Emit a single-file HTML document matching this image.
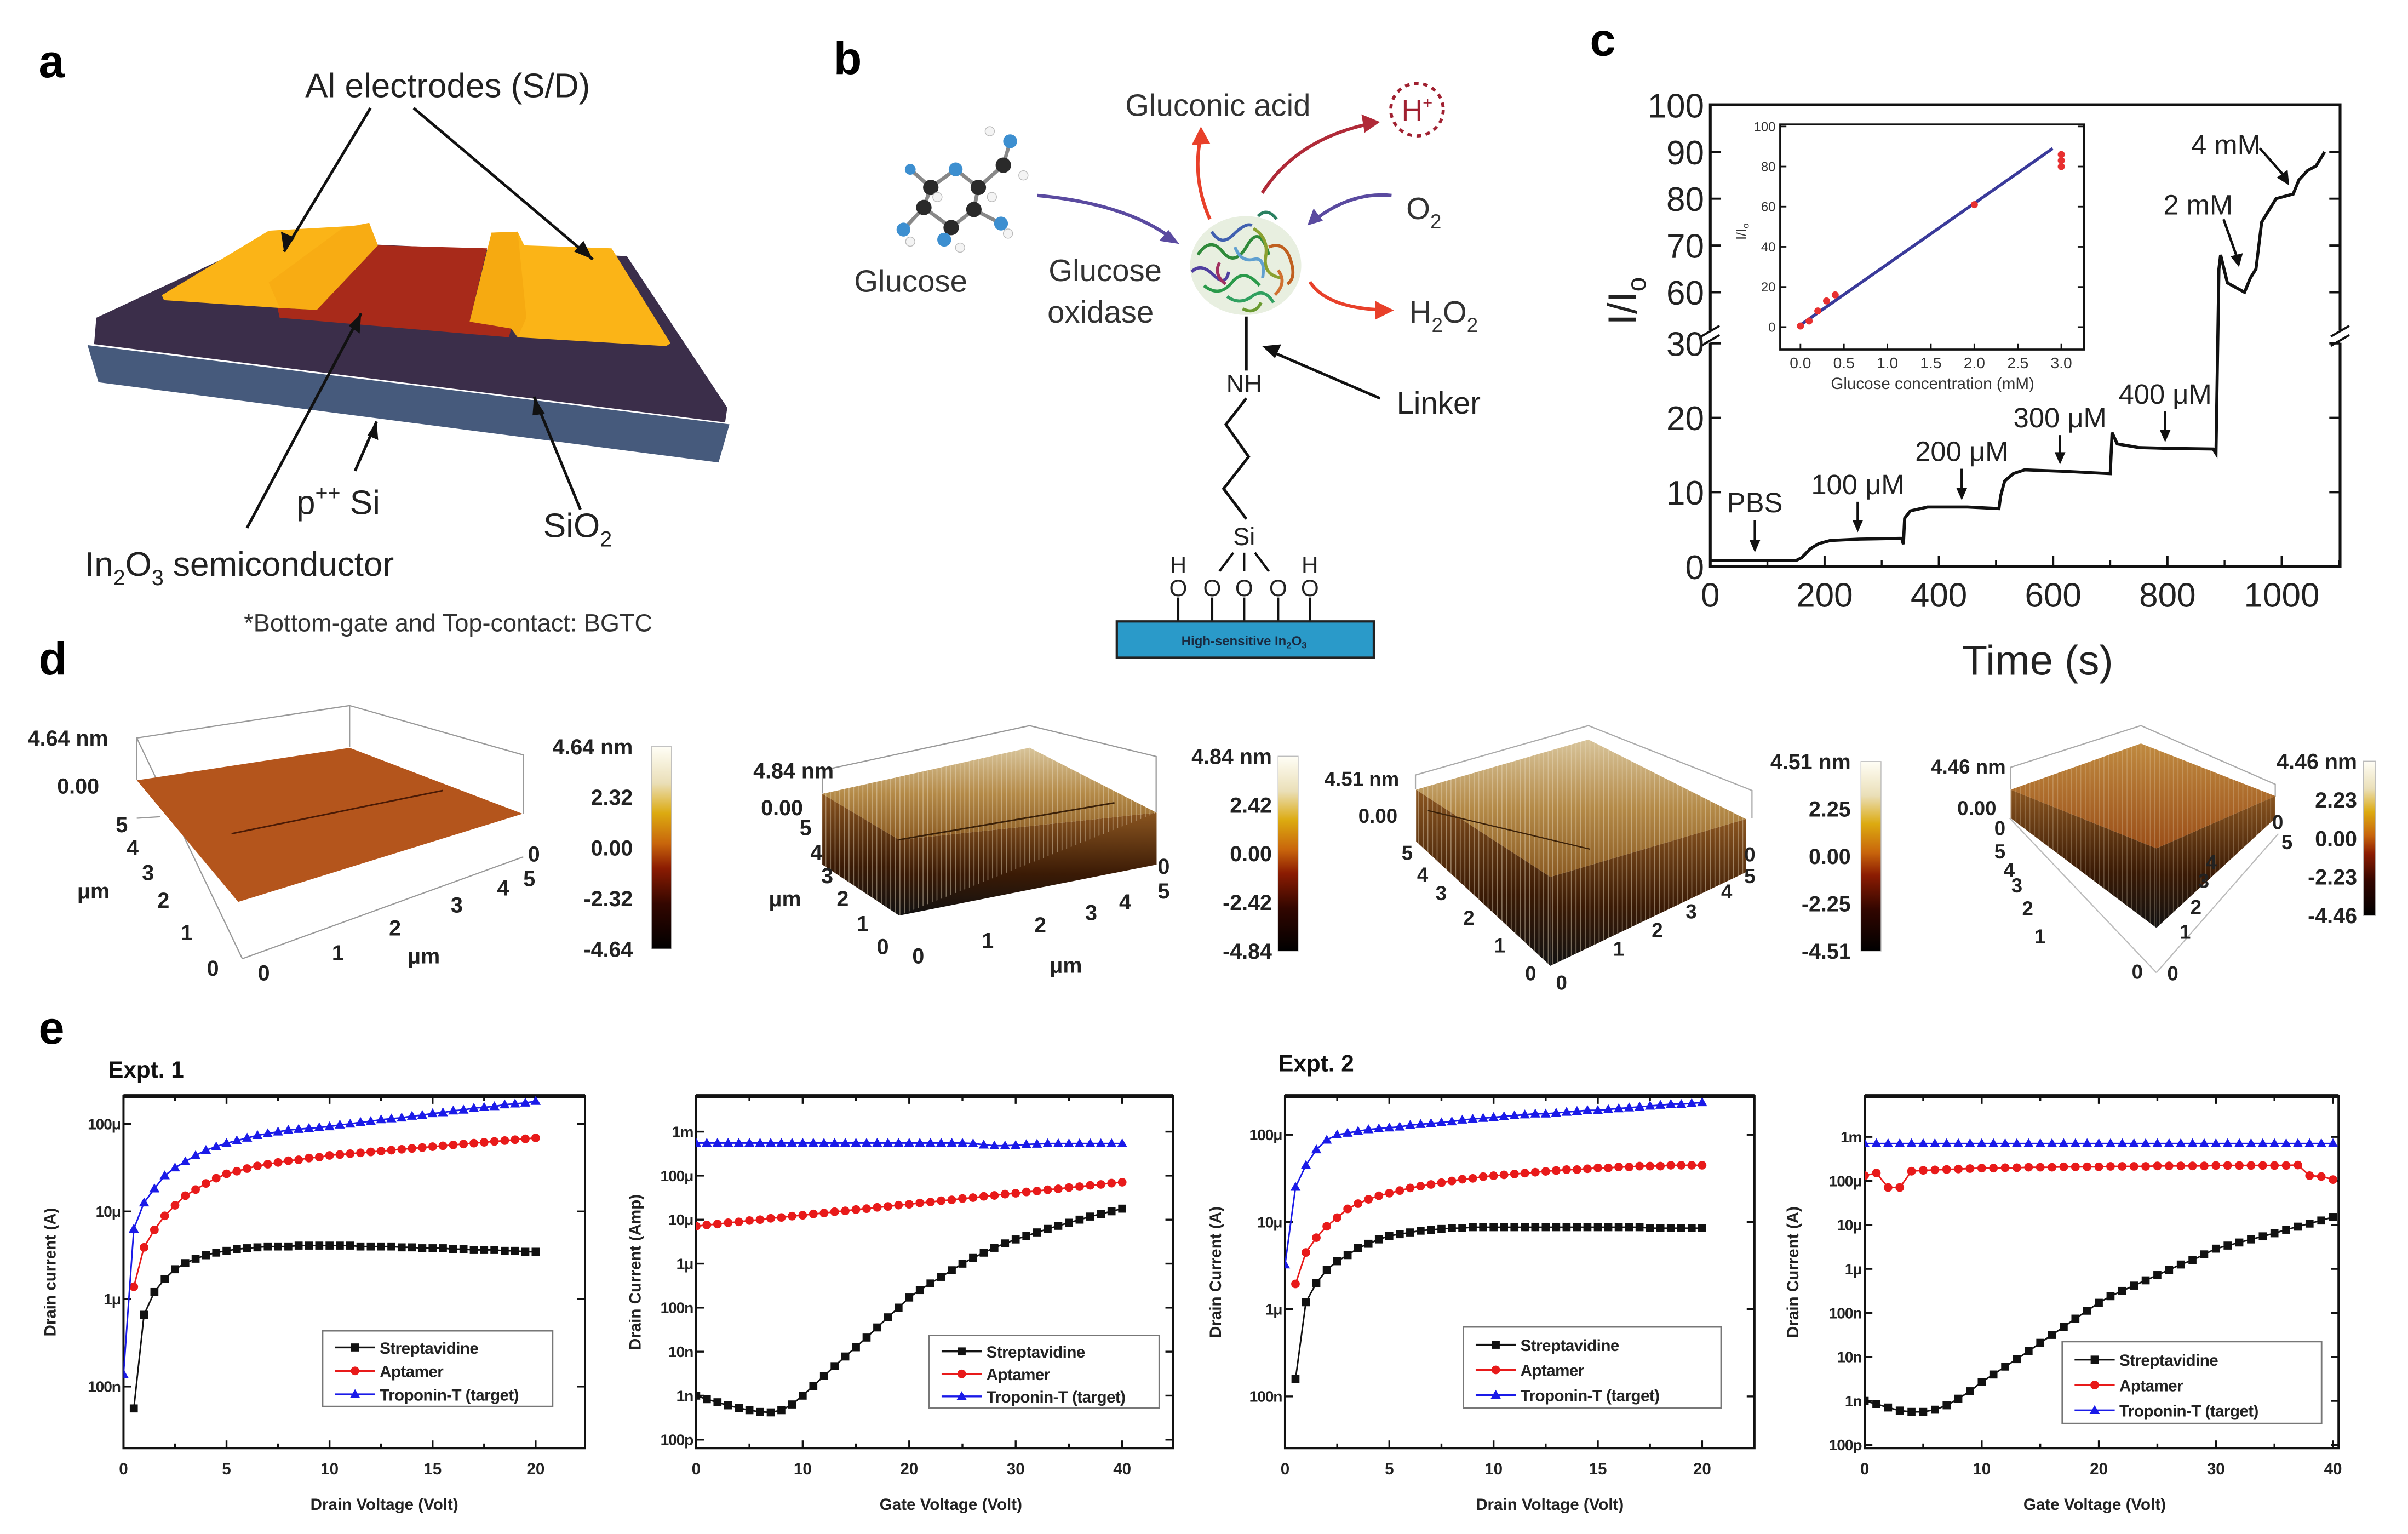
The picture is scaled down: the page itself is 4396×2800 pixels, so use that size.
<!DOCTYPE html>
<html><head><meta charset="utf-8"><style>
html,body{margin:0;padding:0;background:#fff;}
svg{display:block;font-family:"Liberation Sans",sans-serif;}
</style></head><body>
<svg id="fig" xmlns="http://www.w3.org/2000/svg" width="4396" height="2800" viewBox="0 0 1560 993.6">
<defs>
<linearGradient id="cbar" x1="0" y1="0" x2="0" y2="1">
<stop offset="0" stop-color="#fffef6"/><stop offset="0.18" stop-color="#eadfb8"/><stop offset="0.33" stop-color="#dcaa10"/><stop offset="0.48" stop-color="#c8650c"/><stop offset="0.6" stop-color="#8c1c02"/><stop offset="0.78" stop-color="#320600"/><stop offset="1" stop-color="#000"/>
</linearGradient>
<linearGradient id="topface" x1="0" y1="0" x2="0" y2="1"><stop offset="0" stop-color="#d8c49a"/><stop offset="0.5" stop-color="#b48a48"/><stop offset="1" stop-color="#8a5a22"/></linearGradient>
<linearGradient id="sideface" x1="0" y1="0" x2="0" y2="1"><stop offset="0" stop-color="#8a5520"/><stop offset="0.6" stop-color="#3a1a05"/><stop offset="1" stop-color="#111"/></linearGradient>
<linearGradient id="topface4" x1="0" y1="0" x2="0" y2="1"><stop offset="0" stop-color="#c08a40"/><stop offset="1" stop-color="#9a4e18"/></linearGradient>
<pattern id="spikes" width="3" height="6" patternUnits="userSpaceOnUse"><rect width="3" height="6" fill="none"/><line x1="1" y1="0" x2="1" y2="6" stroke="#e8dcc0" stroke-width="0.6" opacity="0.45"/></pattern>
</defs>

<text x="25" y="50" font-size="30" font-weight="bold">a</text>
<text x="540" y="48" font-size="30" font-weight="bold">b</text>
<text x="1030" y="36" font-size="30" font-weight="bold">c</text>
<text x="25" y="437" font-size="30" font-weight="bold">d</text>
<text x="25" y="676" font-size="30" font-weight="bold">e</text>

<g>
<g transform="translate(35.5,117.1) scale(0.2829,0.1267)">
<polygon points="75,840 1545,1245 1520,1440 100,1030" fill="#465a7c"/>
<polygon points="95,700 480,300 1310,385 1540,1160 1535,1235 90,835" fill="#3b2e4a"/>
<polygon points="510,650 515,700 1040,800 1045,755 950,720 990,345 740,330 600,660" fill="#a82a1a"/>
<polygon points="245,585 490,255 690,230 720,215 740,330 600,660 515,650 250,610" fill="#fbb417"/>
<polygon points="490,520 660,240 720,215 740,330 600,660 515,650" fill="#f6a812" opacity="0.7"/>
<polygon points="950,720 1000,265 1060,260 1075,330 1275,345 1410,830 1400,845 1060,800 1045,755" fill="#fbb417"/>
<polygon points="950,720 1000,265 1060,260 1080,700 1060,800 1045,755" fill="#f3a510" opacity="0.7"/>
</g>
<g stroke="#111" stroke-width="1.8" fill="none">
<line x1="240" y1="70" x2="184" y2="163"/><line x1="268" y1="70" x2="384" y2="168"/>
<line x1="160" y1="342" x2="234" y2="203"/><line x1="230" y1="305" x2="244" y2="273"/><line x1="376" y1="330" x2="346" y2="257"/>
</g>
<g fill="#111">
<polygon points="184,163 182,150 191,154"/><polygon points="384,168 372,163 378,156"/>
<polygon points="234,203 233,216 226,211"/><polygon points="244,273 245,285 238,282"/><polygon points="346,257 353,268 345,269"/>
</g>
<text x="290" y="63" font-size="22" text-anchor="middle" fill="#222">Al electrodes (S/D)</text>
<text x="192" y="333" font-size="22" fill="#222">p<tspan font-size="14" dy="-9">++</tspan><tspan dy="9"> Si</tspan></text>
<text x="352" y="348" font-size="22" fill="#222">SiO<tspan font-size="14" dy="6">2</tspan></text>
<text x="55" y="373" font-size="22" fill="#222">In<tspan font-size="14" dy="6">2</tspan><tspan dy="-6">O</tspan><tspan font-size="14" dy="6">3</tspan><tspan dy="-6"> semiconductor</tspan></text>
<text x="158" y="409" font-size="16" fill="#333">*Bottom-gate and Top-contact: BGTC</text>
</g>

<g>
<g stroke="#888" stroke-width="2.4">
<line x1="589.7" y1="109.7" x2="603" y2="121.4"/><line x1="603" y1="121.4" x2="619.1" y2="109.7"/><line x1="619.1" y1="109.7" x2="633.8" y2="121.4"/><line x1="633.8" y1="121.4" x2="650" y2="107"/><line x1="650" y1="107" x2="654.4" y2="91.5"/><line x1="603" y1="121.4" x2="598.5" y2="134.4"/><line x1="598.5" y1="134.4" x2="616.2" y2="147.4"/><line x1="616.2" y1="147.4" x2="630.9" y2="135.7"/><line x1="630.9" y1="135.7" x2="633.8" y2="121.4"/><line x1="598.5" y1="134.4" x2="585.3" y2="148.7"/><line x1="616.2" y1="147.4" x2="611.7" y2="155.2"/><line x1="630.9" y1="135.7" x2="648.5" y2="144.8"/>
</g>
<g fill="#2a2a2a"><circle cx="603" cy="121.4" r="5"/><circle cx="598.5" cy="134.4" r="5"/><circle cx="616.2" cy="147.4" r="5"/><circle cx="633.8" cy="121.4" r="5"/><circle cx="630.9" cy="135.7" r="5"/><circle cx="650" cy="107" r="5"/></g>
<g fill="#3d8fd0"><circle cx="619.1" cy="109.7" r="4.5"/><circle cx="585.3" cy="148.7" r="4.5"/><circle cx="611.7" cy="155.2" r="4.5"/><circle cx="648.5" cy="144.8" r="4.5"/><circle cx="654.4" cy="91.5" r="4.5"/><circle cx="589.7" cy="109.7" r="3.5"/></g>
<g fill="#f4f4f4" stroke="#bbb" stroke-width="0.5"><circle cx="641.2" cy="85" r="3"/><circle cx="663" cy="113.6" r="3"/><circle cx="607.3" cy="127.6" r="3"/><circle cx="642.6" cy="127.6" r="3"/><circle cx="589.7" cy="156.5" r="3"/><circle cx="622" cy="160.4" r="3"/><circle cx="653" cy="151.3" r="3"/></g>
<text x="590" y="189" font-size="20" text-anchor="middle" fill="#333">Glucose</text>
<text x="716" y="182" font-size="20" text-anchor="middle" fill="#333">Glucose</text>
<text x="713" y="209" font-size="20" text-anchor="middle" fill="#333">oxidase</text>
<text x="789" y="75" font-size="20" text-anchor="middle" fill="#333">Gluconic acid</text>
<circle cx="918" cy="71" r="17" fill="none" stroke="#a02030" stroke-width="2" stroke-dasharray="3,3"/>
<text x="918" y="78" font-size="19" text-anchor="middle" fill="#a02030">H<tspan font-size="11" dy="-8">+</tspan></text>
<text x="911" y="142" font-size="20" fill="#333">O<tspan font-size="13" dy="6">2</tspan></text>
<text x="913" y="209" font-size="20" fill="#333">H<tspan font-size="13" dy="6">2</tspan><tspan dy="-6">O</tspan><tspan font-size="13" dy="6">2</tspan></text>
<g fill="none" stroke-width="2">
<ellipse cx="807" cy="172" rx="36" ry="32" fill="#e8efe0" stroke="none"/>
<path d="M776,165 q8,-12 16,-2 t16,-4 t14,6" stroke="#2f8a3a"/><path d="M780,185 q10,8 18,-2 t18,2" stroke="#2a9a4a"/>
<path d="M785,150 q6,10 14,2 t12,-6" stroke="#4060b0"/><path d="M812,148 q10,6 8,18 t10,14" stroke="#8aa030"/>
<path d="M822,160 q10,-4 14,8 t-2,16" stroke="#c06020"/><path d="M828,175 q6,8 -2,16" stroke="#d07030"/>
<path d="M772,176 q6,-6 14,2 t10,-2" stroke="#5040a0"/><path d="M795,192 q8,6 16,0 t14,4" stroke="#30a060"/>
<path d="M800,160 q4,10 12,8 t6,12" stroke="#60a0d0"/><path d="M790,170 q-4,8 4,14" stroke="#a03060"/>
<path d="M815,140 q6,-6 12,2" stroke="#2a8060"/><path d="M805,200 q8,4 12,-4" stroke="#6a9a30"/>
</g>
<g fill="none" stroke-width="2.2">
<path d="M672,126.6 Q730,132 760,155" stroke="#5a4aa0"/>
<path d="M783.8,142 Q772,115 778,88" stroke="#e8402a"/>
<path d="M817.7,125 Q840,90 888,80" stroke="#b02a38"/>
<path d="M901.5,126.6 Q875,124 851,143" stroke="#5a4aa0"/>
<path d="M848.6,182.6 Q860,200 898,200.8" stroke="#e8402a"/>
</g>
<g><polygon points="764,158 751,156 757,149" fill="#5a4aa0"/><polygon points="778,82 772,94 784,93" fill="#e8402a"/><polygon points="894,79 882,74 884,86" fill="#b02a38"/><polygon points="847,146 851,135 857,143" fill="#5a4aa0"/><polygon points="903,201 891,195 891,207" fill="#e8402a"/></g>
<line x1="807.4" y1="205" x2="807.4" y2="240" stroke="#111" stroke-width="1.8"/>
<text x="806" y="254" font-size="16" text-anchor="middle" fill="#222">NH</text>
<polyline points="807.4,258 794.2,275 808.9,295.8 792.7,316.6 807.4,336.1" fill="none" stroke="#111" stroke-width="1.8"/>
<text x="932" y="268" font-size="20" text-anchor="middle" fill="#222">Linker</text>
<line x1="894" y1="258" x2="822" y2="227" stroke="#111" stroke-width="1.8"/><polygon points="817.7,224.2 830,223 826,232" fill="#111"/>
<text x="806" y="353" font-size="16" text-anchor="middle" fill="#222">Si</text>
<g stroke="#111" stroke-width="1.5"><line x1="799" y1="358" x2="790" y2="370"/><line x1="806" y1="358" x2="806" y2="370"/><line x1="813" y1="358" x2="822" y2="370"/>
<line x1="763.3" y1="387" x2="763.3" y2="402.5"/><line x1="785.3" y1="387" x2="785.3" y2="402.5"/><line x1="806" y1="387" x2="806" y2="402.5"/><line x1="828" y1="387" x2="828" y2="402.5"/><line x1="848.6" y1="387" x2="848.6" y2="402.5"/></g>
<g font-size="15" text-anchor="middle" fill="#222"><text x="763.3" y="386">O</text><text x="785.3" y="386">O</text><text x="806" y="386">O</text><text x="828" y="386">O</text><text x="848.6" y="386">O</text><text x="763.3" y="371">H</text><text x="848.6" y="371">H</text></g>
<rect x="723.5" y="402.5" width="166.5" height="23.5" fill="#2a9ac9" stroke="#222" stroke-width="1.5"/>
<text x="806" y="418" font-size="8.5" font-weight="bold" text-anchor="middle" fill="#1a2a40">High-sensitive In<tspan font-size="6" dy="2">2</tspan><tspan dy="-2">O</tspan><tspan font-size="6" dy="2">3</tspan></text>
</g>

<g id="panelC"></g>

<g>
<g>
<polyline points="88.6,505 88.6,478 226.5,457 339,489 339,527" fill="none" stroke="#999" stroke-width="0.8"/>
<line x1="226.5" y1="457" x2="226.5" y2="484" stroke="#999" stroke-width="0.8"/>
<line x1="88.6" y1="478" x2="157" y2="621" stroke="#999" stroke-width="0.8"/>
<line x1="157" y1="621" x2="339" y2="555" stroke="#999" stroke-width="0.8"/>
<line x1="88.6" y1="530" x2="104" y2="529" stroke="#999" stroke-width="0.8"/>
<polygon points="88.6,505.4 226.5,484.4 338.6,527.1 154.3,584.2" fill="#b4551c"/>
<line x1="150" y1="540" x2="287" y2="512" stroke="#4a1a05" stroke-width="1"/>
<g font-size="14" font-weight="bold" fill="#222"><text x="18" y="483">4.64 nm</text><text x="37" y="514">0.00</text>
<text x="75" y="539">5</text><text x="82" y="554">4</text><text x="92" y="570">3</text><text x="102" y="588">2</text><text x="117" y="609">1</text><text x="134" y="632">0</text>
<text x="50" y="582">μm</text><text x="167" y="635">0</text><text x="215" y="622">1</text><text x="252" y="606">2</text><text x="292" y="591">3</text><text x="322" y="580">4</text><text x="339" y="574">5</text><text x="342" y="558">0</text><text x="264" y="624">μm</text></g>
</g>
<g>
<polyline points="532.7,514 532.7,499 667,470 749,490 749,526" fill="none" stroke="#999" stroke-width="0.8"/>
<polygon points="532.7,514.2 582.5,544 582.5,593 532.7,560" fill="url(#sideface)"/>
<polygon points="582.5,544 749.3,526.4 749.3,560 582.5,593" fill="url(#sideface)"/>
<polygon points="532.7,514.2 667,484.3 749.3,526.4 582.5,544" fill="url(#topface)"/>
<polygon points="532.7,514.2 667,484.3 749.3,526.4 582.5,593 532.7,560" fill="url(#spikes)"/>
<line x1="582" y1="544" x2="722" y2="520" stroke="#3a2008" stroke-width="1"/>
<g font-size="14" font-weight="bold" fill="#222"><text x="488" y="504">4.84 nm</text><text x="493" y="528">0.00</text>
<text x="518" y="541">5</text><text x="525" y="557">4</text><text x="532" y="572">3</text><text x="542" y="587">2</text><text x="555" y="603">1</text><text x="568" y="618">0</text><text x="498" y="587">μm</text>
<text x="591" y="624">0</text><text x="636" y="614">1</text><text x="670" y="604">2</text><text x="703" y="596">3</text><text x="725" y="589">4</text><text x="750" y="582">5</text><text x="750" y="566">0</text><text x="680" y="630">μm</text></g>
</g>
<g>
<polyline points="917,511 917,502 1029,470 1135,512 1135,530" fill="none" stroke="#aaa" stroke-width="0.8"/>
<polygon points="917.4,511.5 1004.4,568 1004.4,625.6 917.4,545" fill="url(#sideface)"/>
<polygon points="1004.4,568 1131,530.5 1131,565 1004.4,625.6" fill="url(#sideface)"/>
<polygon points="917.4,511.5 1029,479 1131,530.5 1004.4,568" fill="url(#topface)"/>
<polygon points="917.4,511.5 1029,479 1131,530.5 1131,565 1004.4,625.6 917.4,545" fill="url(#spikes)"/>
<line x1="925" y1="525" x2="1030" y2="550" stroke="#3a2008" stroke-width="0.8"/>
<g font-size="13" font-weight="bold" fill="#222"><text x="858" y="509">4.51 nm</text><text x="880" y="533">0.00</text>
<text x="908" y="557">5</text><text x="918" y="571">4</text><text x="930" y="583">3</text><text x="948" y="599">2</text><text x="968" y="617">1</text><text x="988" y="635">0</text>
<text x="1008" y="641">0</text><text x="1045" y="619">1</text><text x="1070" y="607">2</text><text x="1092" y="595">3</text><text x="1115" y="582">4</text><text x="1130" y="572">5</text><text x="1130" y="558">0</text></g>
</g>
<g>
<polyline points="1302.6,511 1302.6,497 1387,470 1474,508 1474,516" fill="none" stroke="#aaa" stroke-width="0.8"/>
<line x1="1302" y1="530" x2="1397" y2="630" stroke="#bbb" stroke-width="0.8"/><line x1="1397" y1="630" x2="1476" y2="540" stroke="#bbb" stroke-width="0.8"/>
<polygon points="1302.6,511.5 1397,549.5 1397,601 1302.6,530" fill="url(#sideface)"/>
<polygon points="1397,549.5 1474,515.6 1474,530 1397,601" fill="url(#sideface)"/>
<polygon points="1302.6,511.5 1387,481.6 1474,515.6 1397,549.5" fill="url(#topface4)"/>
<polygon points="1302.6,511.5 1387,481.6 1474,515.6 1474,530 1397,601 1302.6,530" fill="url(#spikes)" opacity="0.6"/>
<g font-size="13" font-weight="bold" fill="#222"><text x="1251" y="501">4.46 nm</text><text x="1268" y="528">0.00</text>
<text x="1292" y="541">0</text><text x="1292" y="556">5</text><text x="1298" y="568">4</text><text x="1303" y="578">3</text><text x="1310" y="593">2</text><text x="1318" y="611">1</text><text x="1381" y="634">0</text>
<text x="1404" y="635">0</text><text x="1412" y="608">1</text><text x="1419" y="592">2</text><text x="1424" y="575">3</text><text x="1429" y="563">4</text><text x="1478" y="550">5</text><text x="1472" y="537">0</text></g>
</g>
<g id="colorbars"></g>
</g>

<g font-size="15" font-weight="bold" fill="#111">
<text x="70" y="698">Expt. 1</text>
<text x="828" y="694">Expt. 2</text>
</g>
<g id="panelE"></g>
</svg>

<script>
// ===== Panel c data =====
const cTimes = [0,150,160,175,190,210,260,335,338,340,350,380,450,505,508,515,530,550,620,700,703,712,750,800,880,885,890,893,905,920,935,945,955,965,990,1020,1030,1045,1060,1075];
const cValues = [0.8,0.8,1.2,2.4,3.1,3.5,3.7,3.8,3.0,6.5,7.5,8.0,8.0,7.8,9.5,11.5,12.5,13.0,12.8,12.5,18.0,16.5,16.0,15.9,15.8,15.2,65,68,62,61,60,63,65,75,80,81,84,86,87,90];
const cYTicksLow = [0,10,20,30];
const cYTicksHigh = [60,70,80,90,100];
const cXTicks = [0,200,400,600,800,1000];
const cAnnotations = [
 {label:'PBS', t:78, v:1.5, ty:324.8},
 {label:'100 μM', t:258, v:4.2, ty:313},
 {label:'200 μM', t:440, v:8.5, ty:291.6},
 {label:'300 μM', t:612, v:13.3, ty:269.8},
 {label:'400 μM', t:796, v:16.3, ty:254.5}
];
const insetConc = [0,0.1,0.2,0.3,0.4,2.0,3.0,3.0,3.0];
const insetResp = [0.5,3,8,13,16,61,80,83,86];
const insetFit = [[0,1],[2.9,89]];
const insetYTicks = [0,20,40,60,80,100];
const insetXTicks = [0.0,0.5,1.0,1.5,2.0,2.5,3.0];

// ===== Panel e data (log10 of current in A) =====
const e1Volt = [0,0.5,1,1.5,2,2.5,3,3.5,4,4.5,5,5.5,6,6.5,7,7.5,8,8.5,9,9.5,10,10.5,11,11.5,12,12.5,13,13.5,14,14.5,15,15.5,16,16.5,17,17.5,18,18.5,19,19.5,20];
const e1Strept = [null,-7.25,-6.18,-5.92,-5.77,-5.66,-5.59,-5.54,-5.5,-5.47,-5.45,-5.43,-5.42,-5.41,-5.4,-5.4,-5.4,-5.39,-5.39,-5.39,-5.39,-5.39,-5.39,-5.4,-5.4,-5.4,-5.4,-5.41,-5.41,-5.42,-5.42,-5.42,-5.43,-5.43,-5.44,-5.44,-5.44,-5.45,-5.45,-5.46,-5.46];
const e1Apt = [null,-5.86,-5.41,-5.21,-5.05,-4.93,-4.82,-4.75,-4.68,-4.62,-4.57,-4.54,-4.51,-4.48,-4.46,-4.44,-4.42,-4.41,-4.39,-4.38,-4.36,-4.35,-4.34,-4.33,-4.32,-4.31,-4.3,-4.29,-4.28,-4.27,-4.26,-4.25,-4.24,-4.23,-4.22,-4.21,-4.2,-4.19,-4.18,-4.17,-4.16];
const e1Trop = [-6.86,-5.2,-4.9,-4.74,-4.59,-4.5,-4.43,-4.36,-4.3,-4.26,-4.22,-4.19,-4.16,-4.13,-4.11,-4.09,-4.07,-4.06,-4.05,-4.04,-4.03,-4.01,-4.0,-3.98,-3.97,-3.95,-3.94,-3.93,-3.91,-3.9,-3.88,-3.87,-3.85,-3.84,-3.82,-3.81,-3.8,-3.78,-3.77,-3.76,-3.74];

const e2Volt = [0,1,2,3,4,5,6,7,8,9,10,11,12,13,14,15,16,17,18,19,20,21,22,23,24,25,26,27,28,29,30,31,32,33,34,35,36,37,38,39,40];
const e2Strept = [-9.0,-9.08,-9.15,-9.22,-9.28,-9.33,-9.37,-9.38,-9.33,-9.2,-9.0,-8.78,-8.55,-8.33,-8.11,-7.9,-7.68,-7.45,-7.22,-7.0,-6.77,-6.6,-6.45,-6.3,-6.15,-6.0,-5.87,-5.75,-5.64,-5.54,-5.45,-5.37,-5.29,-5.21,-5.14,-5.07,-5.0,-4.93,-4.87,-4.81,-4.75];
const e2Apt = [-5.15,-5.12,-5.1,-5.07,-5.05,-5.02,-5.0,-4.97,-4.95,-4.92,-4.9,-4.87,-4.85,-4.82,-4.8,-4.77,-4.75,-4.72,-4.7,-4.67,-4.65,-4.62,-4.6,-4.57,-4.55,-4.52,-4.5,-4.47,-4.45,-4.42,-4.4,-4.37,-4.35,-4.32,-4.3,-4.27,-4.25,-4.22,-4.2,-4.17,-4.15];
const e2Trop = [-3.26,-3.26,-3.26,-3.26,-3.26,-3.26,-3.26,-3.26,-3.26,-3.26,-3.26,-3.26,-3.26,-3.26,-3.26,-3.26,-3.26,-3.26,-3.26,-3.26,-3.26,-3.26,-3.26,-3.26,-3.26,-3.26,-3.27,-3.3,-3.32,-3.32,-3.31,-3.29,-3.28,-3.27,-3.27,-3.27,-3.27,-3.27,-3.27,-3.27,-3.27];

const e3Volt = [0,0.5,1,1.5,2,2.5,3,3.5,4,4.5,5,5.5,6,6.5,7,7.5,8,8.5,9,9.5,10,10.5,11,11.5,12,12.5,13,13.5,14,14.5,15,15.5,16,16.5,17,17.5,18,18.5,19,19.5,20];
const e3Strept = [null,-6.8,-5.92,-5.7,-5.55,-5.45,-5.38,-5.3,-5.25,-5.2,-5.16,-5.14,-5.12,-5.1,-5.09,-5.08,-5.07,-5.07,-5.06,-5.06,-5.06,-5.06,-5.06,-5.06,-5.06,-5.06,-5.06,-5.06,-5.06,-5.06,-5.06,-5.06,-5.06,-5.06,-5.06,-5.07,-5.07,-5.07,-5.07,-5.07,-5.07];
const e3Apt = [null,-5.71,-5.35,-5.18,-5.05,-4.95,-4.85,-4.79,-4.74,-4.7,-4.67,-4.64,-4.61,-4.59,-4.57,-4.55,-4.53,-4.51,-4.5,-4.48,-4.47,-4.46,-4.45,-4.44,-4.43,-4.42,-4.41,-4.4,-4.4,-4.39,-4.38,-4.38,-4.37,-4.37,-4.36,-4.36,-4.36,-4.35,-4.35,-4.35,-4.35];
const e3Trop = [-5.49,-4.6,-4.35,-4.17,-4.06,-4.0,-3.98,-3.96,-3.94,-3.93,-3.92,-3.91,-3.89,-3.88,-3.87,-3.86,-3.85,-3.83,-3.82,-3.81,-3.8,-3.79,-3.78,-3.77,-3.76,-3.76,-3.75,-3.74,-3.73,-3.72,-3.72,-3.71,-3.7,-3.69,-3.68,-3.67,-3.66,-3.65,-3.65,-3.64,-3.63];

const e4Volt = [0,1,2,3,4,5,6,7,8,9,10,11,12,13,14,15,16,17,18,19,20,21,22,23,24,25,26,27,28,29,30,31,32,33,34,35,36,37,38,39,40];
const e4Strept = [-9.0,-9.07,-9.15,-9.22,-9.25,-9.25,-9.2,-9.1,-8.95,-8.78,-8.57,-8.4,-8.22,-8.05,-7.87,-7.68,-7.5,-7.32,-7.13,-6.95,-6.77,-6.62,-6.5,-6.38,-6.26,-6.14,-6.02,-5.9,-5.8,-5.67,-5.54,-5.47,-5.4,-5.33,-5.26,-5.19,-5.11,-5.04,-4.97,-4.9,-4.82];
const e4Apt = [-3.88,-3.82,-4.15,-4.15,-3.78,-3.76,-3.75,-3.74,-3.73,-3.72,-3.71,-3.71,-3.7,-3.7,-3.69,-3.69,-3.69,-3.68,-3.68,-3.68,-3.68,-3.67,-3.67,-3.67,-3.67,-3.66,-3.66,-3.66,-3.66,-3.66,-3.65,-3.65,-3.65,-3.65,-3.65,-3.65,-3.65,-3.64,-3.88,-3.9,-3.97];
const e4Trop = [-3.15,-3.15,-3.15,-3.15,-3.15,-3.15,-3.15,-3.15,-3.15,-3.15,-3.15,-3.15,-3.15,-3.15,-3.15,-3.15,-3.15,-3.15,-3.15,-3.15,-3.15,-3.15,-3.15,-3.15,-3.15,-3.15,-3.15,-3.15,-3.15,-3.15,-3.15,-3.15,-3.15,-3.15,-3.15,-3.15,-3.15,-3.15,-3.15,-3.15,-3.15];

const seriesNames = ['Streptavidine','Aptamer','Troponin-T (target)'];
const decadeLabels = {'-2':'10m','-3':'1m','-4':'100μ','-5':'10μ','-6':'1μ','-7':'100n','-8':'10n','-9':'1n','-10':'100p'};

const cbLabels1 = ['4.64 nm','2.32','0.00','-2.32','-4.64'];
const cbLabels2 = ['4.84 nm','2.42','0.00','-2.42','-4.84'];
const cbLabels3 = ['4.51 nm','2.25','0.00','-2.25','-4.51'];
const cbLabels4 = ['4.46 nm','2.23','0.00','-2.23','-4.46'];

const NS='http://www.w3.org/2000/svg';
function mk(tag, attrs, parent){const el=document.createElementNS(NS,tag);for(const k in attrs)el.setAttribute(k,attrs[k]);parent.appendChild(el);return el;}
function txt(str, attrs, parent){const el=mk('text',attrs,parent);el.textContent=str;return el;}

// ===== Panel c =====
(function(){
 const g=document.getElementById('panelC');
 const L=1108,R=1516,T=67.8,B=367;
 const cx=t=>L+t*0.3702;
 const cy=v=> v<=30 ? 367-v*4.82 : (v>=60 ? 189.3-(v-60)*3.03 : 222.5-(v-30)/30*33.2);
 const frame=mk('rect',{x:L,y:T,width:R-L,height:B-T,fill:'none',stroke:'#111','stroke-width':1.8},g);
 
 
 [L,R].forEach(x=>{
  const w=mk('rect',{x:x-4,y:214,width:8,height:8,fill:'#fff'},g);
  
  
  mk('line',{x1:x-6,y1:218,x2:x+6,y2:211,stroke:'#111','stroke-width':1.4},g);
  mk('line',{x1:x-6,y1:224,x2:x+6,y2:217,stroke:'#111','stroke-width':1.4},g);
 });
 cYTicksLow.concat(cYTicksHigh).forEach(v=>{
  const y=cy(v);
  mk('line',{x1:L,y1:y,x2:L+7,y2:y,stroke:'#111','stroke-width':1.4},g);
  mk('line',{x1:R,y1:y,x2:R-7,y2:y,stroke:'#111','stroke-width':1.4},g);
  const t=txt(String(v),{x:L-4,y:y+8,'font-size':22,'text-anchor':'end',fill:'#222'},g);
  
  
 });
 cXTicks.forEach(v=>{
  const x=cx(v);
  mk('line',{x1:x,y1:B,x2:x,y2:B-7,stroke:'#111','stroke-width':1.4},g);
  mk('line',{x1:x+37,y1:B,x2:x+37,y2:B-4,stroke:'#111','stroke-width':1.2},g);
  const t=txt(String(v),{x:x,y:B+26,'font-size':22,'text-anchor':'middle',fill:'#222'},g);
  
  
 });
 const xt=txt('Time (s)',{x:1320,y:437,'font-size':27,'text-anchor':'middle',fill:'#222'},g);
 
 
 const yt=mk('text',{x:0,y:0,'font-size':26,'text-anchor':'middle',fill:'#222',transform:'translate(1060,195) rotate(-90)'},g);
 
 
 yt.textContent='I/I';
 const sub=mk('tspan',{'font-size':17,dy:6},yt);
 sub.textContent='o';
 let d='';
 cTimes.forEach((t,i)=>{d+=(i?'L':'M')+cx(t).toFixed(1)+','+cy(cValues[i]).toFixed(1);});
 const line=mk('path',{d:d,fill:'none',stroke:'#111','stroke-width':2},g);
 
 
 cAnnotations.forEach(a=>{
  const x=cx(a.t);
  const t=txt(a.label,{x:x,y:a.ty+7,'font-size':18,'text-anchor':'middle',fill:'#222'},g);
  
  
  const yEnd=cy(a.v)-2;
  mk('line',{x1:x,y1:a.ty+12,x2:x,y2:yEnd-6,stroke:'#111','stroke-width':1.6},g);
  mk('polygon',{points:`${x-3.5},${yEnd-8} ${x+3.5},${yEnd-8} ${x},${yEnd}`,fill:'#111'},g);
 });
 const t2=txt('2 mM',{x:1424,y:139,'font-size':18,'text-anchor':'middle',fill:'#222'},g);
 
 
 mk('line',{x1:1440.5,y1:142,x2:1449,y2:166,stroke:'#111','stroke-width':1.6},g);
 mk('polygon',{points:'1445,166 1453,164 1450.5,173',fill:'#111'},g);
 const t4=txt('4 mM',{x:1442,y:100,'font-size':18,'text-anchor':'middle',fill:'#222'},g);
 
 
 mk('line',{x1:1464,y1:96,x2:1479,y2:113,stroke:'#111','stroke-width':1.6},g);
 mk('polygon',{points:'1475,115 1482,110 1483,120',fill:'#111'},g);
 const iL=1153.3,iR=1350,iT=80.6,iB=226.4;
 const ix=c=>1166.4+c*56.33, iy=v=>211.8-v*1.299;
 const ifr=mk('rect',{x:iL,y:iT,width:iR-iL,height:iB-iT,fill:'#fff',stroke:'#111','stroke-width':1.3},g);
 
 
 insetYTicks.forEach(v=>{
  const y=iy(v);
  mk('line',{x1:iL,y1:y,x2:iL+4,y2:y,stroke:'#111','stroke-width':1},g);
  mk('line',{x1:iR,y1:y,x2:iR-4,y2:y,stroke:'#111','stroke-width':1},g);
  const t=txt(String(v),{x:iL-3,y:y+3,'font-size':8.5,'text-anchor':'end',fill:'#333'},g);
  
  
 });
 insetXTicks.forEach(v=>{
  const x=ix(v);
  mk('line',{x1:x,y1:iB,x2:x,y2:iB-4,stroke:'#111','stroke-width':1},g);
  const t=txt(v.toFixed(1),{x:x,y:iB+12,'font-size':10,'text-anchor':'middle',fill:'#333'},g);
  
  
 });
 const ixt=txt('Glucose concentration (mM)',{x:1252,y:252,'font-size':10.5,'text-anchor':'middle',fill:'#333'},g);
 
 
 const iyt=mk('text',{x:0,y:0,'font-size':9,'text-anchor':'middle',fill:'#333',transform:'translate(1131,150) rotate(-90)'},g);
 
 
 iyt.textContent='I/I';
 const isub=mk('tspan',{'font-size':6,dy:2},iyt);
 isub.textContent='o';
 const fit=mk('line',{x1:ix(insetFit[0][0]),y1:iy(insetFit[0][1]),x2:ix(insetFit[1][0]),y2:iy(insetFit[1][1]),stroke:'#3a3a9a','stroke-width':2},g);
 
 
 insetConc.forEach((c,i)=>{
  const p=mk('circle',{cx:ix(c),cy:iy(insetResp[i]),r:2.3,fill:'#e83030'},g);
  
  
 });
})();

// ===== colorbars =====
(function(){
 const g=document.getElementById('colorbars');
 const bars=[
  {x:422,y0:483.6,y1:614.7,lx:410,labels:cbLabels1},
  {x:828,y0:489.8,y1:616,lx:824,labels:cbLabels2},
  {x:1205.6,y0:493.2,y1:616,lx:1199,labels:cbLabels3},
  {x:1531,y0:493,y1:593,lx:1527,labels:cbLabels4}
 ];
 bars.forEach((b,bi)=>{
  const w=bi===3?8:13;
  const r=mk('rect',{x:b.x,y:b.y0,width:w,height:b.y1-b.y0,fill:'url(#cbar)',stroke:'#bbb','stroke-width':0.5},g);
  
  
  b.labels.forEach((lab,i)=>{
   const y=b.y0+(b.y1-b.y0)*i/(b.labels.length-1);
   const t=txt(lab,{x:b.lx,y:y+5,'font-size':14,'font-weight':'bold','text-anchor':'end',fill:'#222'},g);
   
   
  });
 });
})();

// ===== Panel e =====
(function(){
 const g=document.getElementById('panelE');
 const plots=[
  {L:80,R:379,T:710,B:938,x0:80,xs:13.35,yRef:728,lRef:-4,dec:56.7,xt:[0,5,10,15,20],xm:2.5,volt:e1Volt,s:[e1Strept,e1Apt,e1Trop],yl:'Drain current (A)',ylx:32,xl:'Drain Voltage (Volt)',xlx:249,leg:[209,862,149,49]},
  {L:451,R:760,T:710,B:938,x0:451,xs:6.9,yRef:733,lRef:-3,dec:28.5,xt:[0,10,20,30,40],xm:5,volt:e2Volt,s:[e2Strept,e2Apt,e2Trop],yl:'Drain Current (Amp)',ylx:411,xl:'Gate Voltage (Volt)',xlx:616,leg:[602,865,149,47]},
  {L:832.5,R:1136.6,T:710,B:938,x0:832.5,xs:13.51,yRef:735,lRef:-4,dec:56.5,xt:[0,5,10,15,20],xm:2.5,volt:e3Volt,s:[e3Strept,e3Apt,e3Trop],yl:'Drain Current (A)',ylx:787,xl:'Drain Voltage (Volt)',xlx:1004,leg:[948,859.5,167,52.5]},
  {L:1208,R:1515,T:710,B:938,x0:1208,xs:7.585,yRef:736.4,lRef:-3,dec:28.5,xt:[0,10,20,30,40],xm:5,volt:e4Volt,s:[e4Strept,e4Apt,e4Trop],yl:'Drain Current (A)',ylx:1161,xl:'Gate Voltage (Volt)',xlx:1357,leg:[1336,869,168,53]}
 ];
 const colors=['#111','#e81a1a','#1a1ae8'];
 function marker(kind,x,y,parent){
  let m;
  if(kind===0) m=mk('rect',{x:x-2.6,y:y-2.6,width:5.2,height:5.2,fill:colors[0]},parent);
  else if(kind===1) m=mk('circle',{cx:x,cy:y,r:2.8,fill:colors[1]},parent);
  else m=mk('polygon',{points:`${x},${y-3.4} ${x+3.3},${y+2.4} ${x-3.3},${y+2.4}`,fill:colors[2]},parent);
  return m;
 }
 plots.forEach((p,pi)=>{
  const pg=mk('g',{},g);
  
  
  const X=v=>p.x0+v*p.xs, Y=l=>p.yRef+(p.lRef-l)*p.dec;
  const clipId='clip'+pi;
  const cp=mk('clipPath',{id:clipId},pg);
  mk('rect',{x:p.L,y:p.T,width:p.R-p.L,height:p.B-p.T},cp);
  const lTop=p.lRef+(p.yRef-p.T)/p.dec, lBot=p.lRef-(p.B-p.yRef)/p.dec;
  for(let l=Math.floor(lTop);l>=Math.ceil(lBot);l--){
   const y=Y(l);
   mk('line',{x1:p.L,y1:y,x2:p.L+5,y2:y,stroke:'#111','stroke-width':1.2},pg);
   mk('line',{x1:p.R,y1:y,x2:p.R-5,y2:y,stroke:'#111','stroke-width':1.2},pg);
   const t=txt(decadeLabels[String(l)],{x:p.L-2,y:y+3.5,'font-size':10,'font-weight':'bold','text-anchor':'end',fill:'#222','letter-spacing':'-0.4'},pg);
   
   
  }
  for(let v=0;X(v)<p.R-1;v+=p.xm){
   const major=p.xt.indexOf(v)>=0;
   mk('line',{x1:X(v),y1:p.B,x2:X(v),y2:p.B-(major?5:3),stroke:'#111','stroke-width':1.2},pg);
   mk('line',{x1:X(v),y1:p.T,x2:X(v),y2:p.T+(major?5:3),stroke:'#111','stroke-width':1.2},pg);
  }
  p.xt.forEach(v=>{
   const t=txt(String(v),{x:X(v),y:p.B+17,'font-size':10.5,'font-weight':'bold','text-anchor':'middle',fill:'#222'},pg);
   
   
  });
  const fr=mk('rect',{x:p.L,y:p.T,width:p.R-p.L,height:p.B-p.T,fill:'none',stroke:'#111','stroke-width':1.4},pg);
  
  
  mk('line',{x1:p.L,y1:p.T,x2:p.R,y2:p.T,stroke:'#111','stroke-width':2.6},pg);
  const xl=txt(p.xl,{x:p.xlx,y:978,'font-size':10.5,'font-weight':'bold','text-anchor':'middle',fill:'#222'},pg);
  
  
  const yl=txt(p.yl,{x:0,y:0,'font-size':10.5,'font-weight':'bold','text-anchor':'middle',fill:'#222',transform:`translate(${p.ylx+4},824) rotate(-90)`},pg);
  
  
  p.s.forEach((arr,si)=>{
   const sg=mk('g',{'clip-path':`url(#${clipId})`},pg);
   
   
   let d='';
   arr.forEach((l,i)=>{ if(l===null) return; d+=(d?'L':'M')+X(p.volt[i]).toFixed(1)+','+Y(l).toFixed(1); });
   mk('path',{d:d,fill:'none',stroke:colors[si],'stroke-width':1},sg);
   arr.forEach((l,i)=>{
    if(l===null) return;
    const m=marker(si,X(p.volt[i]),Y(l),sg);
    
    
   });
  });
  const [lx,ly,lw,lh]=p.leg;
  const lg=mk('g',{},pg);
  
  
  mk('rect',{x:lx,y:ly,width:lw,height:lh,fill:'#fff',stroke:'#777','stroke-width':1},lg);
  seriesNames.forEach((n,si)=>{
   const y=ly+lh*(0.22+si*0.31);
   mk('line',{x1:lx+8,y1:y,x2:lx+34,y2:y,stroke:colors[si],'stroke-width':1.2},lg);
   marker(si,lx+21,y,lg);
   const t=txt(n,{x:lx+37,y:y+4,'font-size':10.5,'font-weight':'bold',fill:'#222','letter-spacing':'-0.2'},lg);
   
   
  });
 });
})();
</script>
</body></html>
